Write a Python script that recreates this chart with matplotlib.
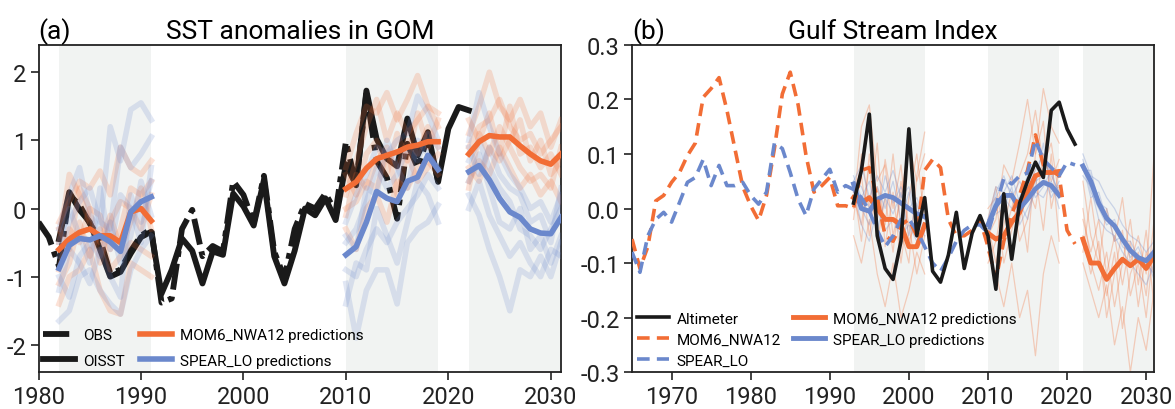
import numpy as np
import matplotlib
matplotlib.use('Agg')
import matplotlib.pyplot as plt
from matplotlib.ticker import FormatStrFormatter

plt.rcParams['font.family'] = ['Roboto', 'DejaVu Sans']
plt.rcParams['axes.unicode_minus'] = False

ORANGE = '#f26d35'
BLUE = '#6b88cc'
SHADE = '#f1f3f2'

# ---------------- panel (a) data: SST anomalies in GOM ----------------
obs_years = np.arange(1980, 2020)
obs_sst = [-0.2, -0.42, -0.85, 0.2, 0.05, -0.22, -0.45, -0.95, -0.9, -0.62,
           -0.4, -0.3, -1.38, -1.32, -0.3, -0.02, -0.7, -0.55, -0.63, 0.4,
           0.2, -0.22, 0.48, -0.63, -1.02, -0.3, 0.07, 0.0, 0.22, -0.05,
           0.98, 0.35, 1.7, 0.7, 0.45, -0.15, 0.95, 0.6, 1.05, 0.4]

oisst_years = np.arange(1982, 2023)
oisst = [-0.45, 0.24, -0.02, -0.2, -0.6, -1.0, -0.93, -0.66, -0.42, -0.34,
         -1.25, -0.9, -0.44, -0.62, -1.1, -0.63, -0.68, 0.22, 0.03, -0.25,
         0.42, -0.7, -1.1, -0.62, 0.0, -0.1, 0.15, -0.17, 0.65, 0.34,
         1.73, 1.02, 0.73, 0.62, 1.32, 0.78, 1.12, 0.39, 1.17, 1.49, 1.44]

# ten-year hindcasts / forecast, start years
sst_starts = [1982, 2010, 2022]

mom6_sst_mean = [
    [-0.6, -0.45, -0.35, -0.3, -0.4, -0.4, -0.5, -0.05, 0.0, -0.18],
    [0.29, 0.39, 0.59, 0.73, 0.78, 0.83, 0.9, 0.93, 0.98, 0.98],
    [0.8, 0.98, 1.07, 1.05, 1.05, 0.92, 0.8, 0.7, 0.65, 0.8],
]
spear_sst_mean = [
    [-0.88, -0.54, -0.44, -0.46, -0.4, -0.49, -0.63, -0.05, 0.1, 0.17],
    [-0.68, -0.56, -0.2, 0.25, 0.15, 0.1, 0.4, 0.46, 0.78, 0.57],
    [0.54, 0.63, 0.42, 0.15, -0.05, -0.13, -0.3, -0.36, -0.37, -0.13],
]

mom6_sst_ens = [
    [[-0.2, 0.1, 0.4, 0.3, 0.55, 0.2, 0.9, 0.6, 0.5, 0.7],
     [-1.4, -1.0, -0.9, -0.6, -1.2, -1.5, -1.55, -0.8, -0.9, -1.0],
     [-0.9, -0.3, -0.5, 0.0, -0.1, -0.6, -0.3, 0.3, 0.2, 0.4],
     [-0.5, 0.5, 0.2, -0.2, -0.5, -0.1, -0.6, -0.2, 0.3, -0.3],
     [-1.1, -0.8, -0.2, -0.7, -0.3, -0.9, -0.7, -0.5, -0.6, -0.7],
     [-0.3, -0.6, 0.3, 0.0, -0.8, -0.2, 0.1, 0.0, -0.3, 0.2]],
    [[0.6, 1.1, 1.5, 1.4, 1.7, 1.3, 1.6, 1.95, 1.5, 1.2],
     [-0.3, -0.6, 0.0, 0.2, -0.2, 0.4, 0.3, 0.6, 0.7, 0.5],
     [0.2, 0.7, 1.2, 1.6, 1.0, 1.4, 1.1, 1.3, 1.5, 1.4],
     [0.0, 0.1, 0.4, 0.3, 0.8, 0.6, 1.0, 0.8, 1.2, 0.9],
     [0.5, 0.2, 0.8, 1.0, 0.5, 1.1, 0.7, 1.4, 0.9, 1.3],
     [-0.1, 0.5, 0.3, 0.7, 0.9, 0.2, 0.8, 0.4, 0.6, 0.8]],
    [[1.1, 1.5, 2.0, 1.5, 1.3, 1.6, 1.2, 1.4, 0.9, 1.3],
     [0.4, 0.7, 0.5, 0.9, 0.6, 0.3, 0.5, 0.2, 0.4, 0.1],
     [0.9, 1.2, 1.3, 1.6, 1.2, 1.0, 1.1, 0.8, 1.0, 1.2],
     [0.6, 0.4, 0.9, 0.7, 1.0, 1.3, 0.7, 1.0, 0.5, 0.7],
     [1.3, 1.0, 1.4, 0.8, 1.5, 0.8, 0.9, 0.6, 0.8, 0.5],
     [0.3, 1.1, 0.8, 1.2, 0.9, 0.6, 0.4, 0.5, 0.3, 0.9]],
]
spear_sst_ens = [
    [[-1.65, -1.5, -1.0, -0.9, -1.2, -1.4, -1.55, -0.9, -0.6, -0.4],
     [-0.3, 0.2, 0.6, -0.1, -0.3, 1.2, 0.7, 1.45, 1.55, 1.3],
     [-1.2, -0.6, -0.8, -1.1, -0.6, -1.0, -1.3, 0.2, -0.2, 0.4],
     [-0.7, -0.2, 0.1, 0.3, -0.2, -0.3, 0.9, 0.6, 0.8, 1.05],
     [-1.0, -1.3, -0.7, -0.5, -0.7, -0.2, -0.8, -0.4, 0.4, -0.1],
     [-0.5, 0.0, -0.4, -0.8, 0.3, -0.6, 0.2, 0.0, -0.5, 0.6]],
    [[-1.1, -1.9, -1.2, -0.9, -0.9, -1.4, -0.5, -0.3, -0.2, 0.05],
     [-0.2, 0.2, 0.5, 0.9, 0.8, 1.0, 1.1, 1.65, 1.4, 1.0],
     [-0.9, -1.0, -0.6, -0.3, -0.5, -0.2, 0.0, 0.2, 0.5, 0.3],
     [-0.5, -0.3, 0.1, 0.6, 0.3, 0.5, 0.9, 0.7, 1.1, 0.9],
     [-1.4, -0.8, -0.9, 0.0, -0.4, -0.8, -0.2, 0.4, 0.2, -0.2],
     [-0.4, -0.6, 0.3, 0.2, 1.0, 0.6, 0.3, 1.0, 0.8, 0.6]],
    [[1.0, 1.7, 1.2, 0.8, 0.5, 0.3, 0.0, 0.1, -0.2, 0.2],
     [0.2, -0.1, -0.6, -1.0, -1.5, -0.9, -1.0, -0.7, -1.0, -0.5],
     [0.7, 1.0, 0.6, 0.3, 0.1, -0.3, -0.4, -0.6, -0.3, 0.0],
     [0.0, 0.4, -0.1, -0.4, -0.7, -0.5, -0.8, -1.0, -0.6, -0.7],
     [0.9, 0.5, 0.9, 0.5, 0.3, 0.2, -0.2, -0.1, -0.5, 0.3],
     [0.4, 0.8, 0.3, -0.2, -0.3, 0.0, -0.6, -0.4, -0.8, -0.4]],
]

# ---------------- panel (b) data: Gulf Stream Index ----------------
alt_years = np.arange(1993, 2022)
altimeter = [0.01, 0.07, 0.173, -0.05, -0.11, -0.13, -0.06, 0.146, -0.05, 0.02,
             -0.115, -0.135, -0.085, -0.007, -0.11, -0.045, -0.013, -0.05, -0.148, 0.027,
             -0.093, 0.01, 0.05, 0.085, 0.057, 0.18, 0.195, 0.146, 0.118]

hist_years = np.arange(1965, 2022)
mom6_gsi = [-0.056, -0.11, -0.07, 0.014, 0.024, 0.048, 0.066, 0.097, 0.12, 0.204,
            0.22, 0.24, 0.18, 0.11, 0.04, 0.005, -0.022, 0.024, 0.11, 0.21,
            0.25, 0.19, 0.097, 0.03, 0.042, 0.057, 0.005, 0.005, 0.0, 0.07,
            0.075, 0.02, -0.05, -0.06, -0.03, -0.02, -0.05, 0.07, 0.09, 0.075,
            -0.02, -0.05, -0.05, -0.04, -0.02, -0.07, -0.13, -0.06, -0.01, 0.025,
            0.07, 0.135, 0.08, 0.07, 0.06, -0.04, -0.065]
spear_gsi = [-0.08, -0.117, -0.05, -0.02, -0.007, -0.025, 0.011, 0.048, 0.057, 0.09,
             0.042, 0.079, 0.042, 0.042, 0.048, 0.024, 0.008, 0.03, 0.12, 0.11,
             0.066, 0.017, -0.013, 0.036, 0.054, 0.072, 0.03, 0.042, 0.035, 0.02,
             -0.005, -0.04, -0.07, -0.05, -0.02, -0.02, -0.04, -0.07, -0.1, -0.115,
             -0.09, -0.06, -0.04, -0.03, -0.03, -0.045, 0.005, 0.055, 0.045, 0.06,
             0.065, 0.125, 0.09, 0.075, 0.06, 0.085, 0.08]

gsi_starts = [1993, 2010, 2022]

mom6_gsi_mean = [
    [0.02, 0.01, 0.02, 0.0, -0.02, -0.02, -0.03, -0.07, -0.07, -0.03],
    [-0.045, -0.056, -0.05, -0.025, -0.007, 0.03, 0.06, 0.066, 0.066, 0.068],
    [-0.056, -0.1, -0.1, -0.13, -0.11, -0.093, -0.105, -0.093, -0.11, -0.087],
]
spear_gsi_mean = [
    [0.045, 0.0, -0.005, 0.017, 0.024, 0.02, 0.01, 0.0, -0.01, -0.015],
    [-0.03, 0.005, 0.024, 0.024, 0.0, 0.017, 0.036, 0.048, 0.042, 0.024],
    [0.078, 0.05, 0.01, -0.018, -0.032, -0.056, -0.077, -0.09, -0.096, -0.08],
]

mom6_gsi_ens = [
    [[0.0, 0.15, 0.19, 0.05, 0.08, -0.05, 0.02, 0.12, 0.05, 0.1],
     [-0.05, -0.1, -0.02, -0.12, -0.18, -0.1, -0.2, -0.15, -0.08, -0.12],
     [0.03, 0.06, -0.05, 0.04, -0.03, 0.1, -0.04, -0.1, 0.06, 0.14],
     [0.02, -0.03, 0.08, -0.06, 0.02, -0.08, 0.05, -0.03, -0.12, -0.05],
     [-0.02, 0.1, 0.0, 0.12, -0.07, 0.03, -0.1, 0.02, 0.1, -0.02],
     [0.04, -0.06, 0.1, -0.02, 0.09, 0.0, 0.08, -0.06, -0.02, 0.05]],
    [[-0.05, -0.02, 0.08, 0.05, 0.12, 0.2, 0.1, 0.22, 0.15, 0.12],
     [-0.08, -0.12, -0.18, -0.1, -0.2, -0.15, -0.27, -0.12, -0.05, -0.1],
     [-0.02, 0.04, -0.05, 0.0, 0.06, 0.1, 0.18, 0.08, 0.12, 0.02],
     [-0.1, -0.06, 0.02, -0.08, -0.02, 0.04, 0.0, 0.1, 0.05, 0.09],
     [-0.03, -0.1, -0.03, 0.03, -0.06, -0.02, 0.06, -0.04, 0.1, -0.06],
     [0.0, 0.02, -0.1, -0.04, 0.02, -0.08, 0.1, 0.16, 0.0, 0.07]],
    [[0.05, -0.05, -0.1, 0.0, -0.06, 0.02, -0.1, -0.05, -0.12, 0.1],
     [-0.1, -0.15, -0.2, -0.14, -0.25, -0.18, -0.3, -0.2, -0.26, -0.15],
     [-0.02, -0.08, -0.02, -0.12, -0.05, -0.14, -0.06, -0.18, -0.08, -0.12],
     [-0.05, -0.12, -0.06, -0.2, -0.12, -0.04, -0.16, -0.1, -0.2, -0.06],
     [0.0, -0.1, -0.15, -0.08, -0.18, -0.1, -0.02, -0.14, -0.04, -0.18],
     [-0.08, 0.02, -0.08, -0.16, -0.08, -0.22, -0.12, -0.08, -0.16, -0.02]],
]
spear_gsi_ens = [
    [[0.05, 0.08, 0.02, 0.06, 0.03, 0.07, 0.02, 0.04, -0.01, 0.02],
     [0.04, -0.03, -0.06, 0.0, -0.04, -0.02, -0.05, -0.03, -0.06, -0.04],
     [0.06, 0.02, 0.05, -0.02, 0.06, 0.01, 0.04, 0.0, 0.02, -0.02],
     [0.03, 0.0, -0.03, 0.04, 0.0, 0.05, -0.02, 0.03, -0.03, 0.01],
     [0.05, 0.04, 0.0, -0.04, 0.02, -0.01, 0.03, -0.05, 0.01, -0.05]],
    [[-0.04, 0.02, 0.05, 0.03, 0.0, 0.04, 0.07, 0.1, 0.06, 0.03],
     [-0.02, -0.01, 0.0, 0.04, -0.03, 0.0, 0.03, 0.02, 0.05, 0.0],
     [-0.03, 0.03, 0.06, 0.02, 0.05, 0.02, 0.05, 0.06, 0.02, 0.05],
     [-0.05, 0.0, 0.02, 0.0, 0.02, 0.06, 0.02, 0.04, 0.07, 0.02],
     [-0.02, 0.04, 0.03, 0.06, 0.01, -0.02, 0.04, 0.12, 0.03, 0.04]],
    [[0.1, 0.06, 0.05, 0.02, 0.0, -0.03, -0.05, -0.06, -0.08, -0.06],
     [0.06, 0.04, -0.02, -0.04, -0.05, -0.08, -0.1, -0.12, -0.14, -0.1],
     [0.08, 0.02, 0.03, -0.02, -0.03, -0.06, -0.06, -0.09, -0.1, -0.12],
     [0.07, 0.07, 0.01, 0.0, -0.06, -0.05, -0.09, -0.07, -0.11, -0.07],
     [0.09, 0.03, 0.0, -0.03, -0.02, -0.07, -0.08, -0.1, -0.09, -0.13]],
]


fig = plt.figure(figsize=(11.75, 4.1), dpi=100)
ax1 = fig.add_axes([0.0328, 0.090, 0.4447, 0.798])
ax2 = fig.add_axes([0.5379, 0.090, 0.4443, 0.798])

# ---- (a) ----
for s in sst_starts:
    ax1.axvspan(s, s + 9, color=SHADE, zorder=0, lw=0)

l_obs, = ax1.plot(obs_years, obs_sst, color='#1a1a1a', lw=4.2,
                  ls=(0, (4.5, 1.2, 1, 1.2)), zorder=2, label='OBS')
l_oi, = ax1.plot(oisst_years, oisst, color='#1a1a1a', lw=4.2, zorder=2,
                 label='OISST')

for k, s in enumerate(sst_starts):
    yrs = np.arange(s, s + 10)
    for m in mom6_sst_ens[k]:
        ax1.plot(yrs, m, color=ORANGE, lw=4, alpha=0.2, zorder=3)
    for m in spear_sst_ens[k]:
        ax1.plot(yrs, m, color=BLUE, lw=4, alpha=0.2, zorder=3)
    l_mo, = ax1.plot(yrs, mom6_sst_mean[k], color=ORANGE, lw=4, zorder=4,
                     label='MOM6_NWA12 predictions')
    l_sp, = ax1.plot(yrs, spear_sst_mean[k], color=BLUE, lw=4, zorder=4,
                     label='SPEAR_LO predictions')

ax1.set_xlim(1980, 2031)
ax1.set_ylim(-2.4, 2.4)
ax1.set_xticks([1980, 1990, 2000, 2010, 2020, 2030])
ax1.set_yticks([-2, -1, 0, 1, 2])
ax1.set_title('SST anomalies in GOM', fontsize=19, pad=5)
ax1.set_title('(a)', loc='left', fontsize=19, pad=5)
ax1.legend(handles=[l_obs, l_oi, l_mo, l_sp], ncol=2, loc='lower left',
           frameon=False, fontsize=11, handlelength=2.1, handletextpad=0.5,
           columnspacing=1.0, labelspacing=0.75, borderaxespad=0.1,
           borderpad=0.2)

# ---- (b) ----
for s in gsi_starts:
    ax2.axvspan(s, s + 9, color=SHADE, zorder=0, lw=0)

for k, s in enumerate(gsi_starts):
    yrs = np.arange(s, s + 10)
    for m in mom6_gsi_ens[k]:
        ax2.plot(yrs, m, color=ORANGE, lw=0.9, alpha=0.3, zorder=1)
    for m in spear_gsi_ens[k]:
        ax2.plot(yrs, m, color=BLUE, lw=0.9, alpha=0.3, zorder=1)
    p_mo, = ax2.plot(yrs, mom6_gsi_mean[k], color=ORANGE, lw=3.5, zorder=2,
                     label='MOM6_NWA12 predictions')
    p_sp, = ax2.plot(yrs, spear_gsi_mean[k], color=BLUE, lw=3.5, zorder=2,
                     label='SPEAR_LO predictions')

h_mo, = ax2.plot(hist_years, mom6_gsi, color=ORANGE, lw=2.6, ls=(0, (3.5, 2)),
                 zorder=3, label='MOM6_NWA12')
h_sp, = ax2.plot(hist_years, spear_gsi, color=BLUE, lw=2.6, ls=(0, (3.5, 2)),
                 zorder=3, label='SPEAR_LO')
h_alt, = ax2.plot(alt_years, altimeter, color='#1a1a1a', lw=2.6, zorder=4,
                  label='Altimeter')

ax2.set_xlim(1965, 2031)
ax2.set_ylim(-0.3, 0.3)
ax2.set_xticks([1970, 1980, 1990, 2000, 2010, 2020, 2030])
ax2.set_yticks([-0.3, -0.2, -0.1, 0.0, 0.1, 0.2, 0.3])
ax2.yaxis.set_major_formatter(FormatStrFormatter('%.1f'))
ax2.set_title('Gulf Stream Index', fontsize=19, pad=5)
ax2.set_title('(b)', loc='left', fontsize=19, pad=5)
ax2.legend(handles=[h_alt, h_mo, h_sp, p_mo, p_sp], ncol=2, loc='lower left',
           frameon=False, fontsize=11, handlelength=2.1, handletextpad=0.5,
           columnspacing=0.8, labelspacing=0.45, borderaxespad=0.1,
           borderpad=0.2)

for ax in (ax1, ax2):
    ax.tick_params(labelsize=17, length=6, width=1.2, colors='#222222', pad=3)
    for sp in ax.spines.values():
        sp.set_linewidth(1.3)
        sp.set_color('#222222')

fig.savefig('out.png', dpi=100)
